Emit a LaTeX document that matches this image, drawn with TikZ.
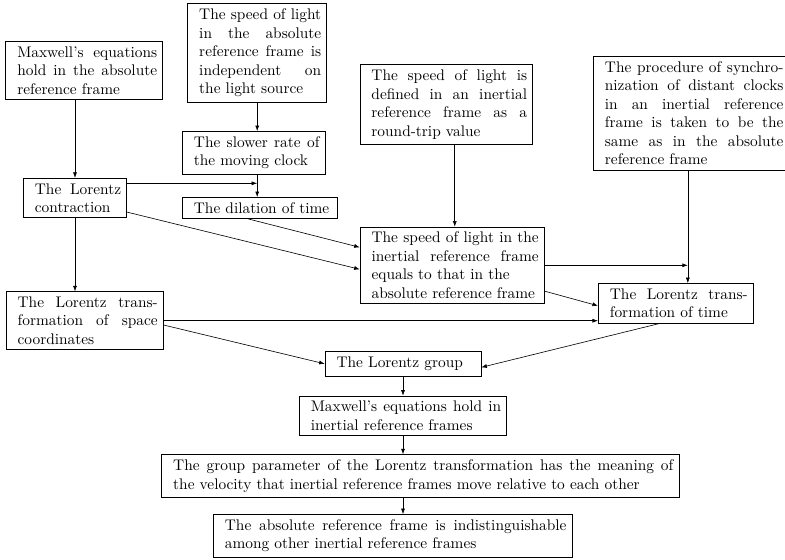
\documentclass[tikz,border=0pt]{standalone}
\usetikzlibrary{arrows.meta}
\begin{document}
\begin{tikzpicture}[x=0.65pt,y=-0.65pt,
  box/.style={draw, align=justify, inner xsep=3.6pt, inner ysep=3.33pt,
    execute at begin node={\leftskip=3.9pt}},
  arr/.style={-{Latex[length=3.6pt,width=2.6pt]}}]
\useasboundingbox (0,0) rectangle (785,559);
\node[box,text width=94.8pt] (mxa) at (84.2,70.3) {Maxwell's equations\linebreak hold in the absolute\linebreak reference frame};
\node[box,text width=83.15pt] (sla) at (257.2,52.8) {The speed of light\linebreak in the absolute\linebreak reference frame is\linebreak independent on\linebreak the light source};
\node[box,text width=85.5pt] (slow) at (253.7,152.8) {The slower rate of\linebreak the moving clock};
\node[box,text width=60pt] (lc) at (75,198) {The Lorentz\linebreak contraction};
\node[box,text width=93.8pt] (dil) at (260,208) {The dilation of time};
\node[box,text width=105.1pt] (sld) at (446.3,104.5) {The speed of light is\linebreak defined in an inertial\linebreak reference frame as a\linebreak round-trip value};
\node[box,text width=120pt] (proc) at (691.2,113.3) {The procedure of synchro-\linebreak nization of distant clocks\linebreak in an inertial reference\linebreak frame is taken to be the\linebreak same as in the absolute\linebreak reference frame};
\node[box,text width=112.6pt] (se) at (452.2,265.3) {The speed of light in the\linebreak inertial reference frame\linebreak equals to that in the\newline absolute reference frame};
\node[box,text width=93.55pt] (tlt) at (675.8,303.3) {The Lorentz trans-\linebreak formation of time};
\node[box,text width=95pt] (lst) at (84.7,320.7) {The Lorentz trans-\linebreak formation of space\linebreak coordinates};
\node[box,text width=94.2pt] (lg) at (403,363.8) {The Lorentz group};
\node[box,text width=127.6pt] (mxi) at (403,415.8) {Maxwell's equations hold in\linebreak inertial reference frames};
\node[box,text width=329pt] (gp) at (420.3,476) {The group parameter of the Lorentz transformation has the meaning of\linebreak the velocity that inertial reference frames move relative to each other};
\node[box,text width=226pt] (abs) at (392.7,535.8) {The absolute reference frame is indistinguishable\linebreak among other inertial reference frames};
% connectors
\draw[arr] (mxa.south -| lc.north) -- (lc.north);
\draw[arr] (sla.south) -- (sla.south |- slow.north);
\draw[arr] (sla.south |- slow.south) -- (sla.south |- dil.north);
\draw[arr] ([yshift=-3.5pt]lc.north east) -- ([yshift=-3.5pt]lc.north east -| sla.south);
\draw[arr] ([xshift=-7.6pt]dil.south) -- ([yshift=11.7pt]se.west);
\draw[arr] ([yshift=3.9pt]lc.south east) -- ([yshift=-2.6pt]se.west);
\draw[arr] (lc.south) -- (lc.south |- lst.north);
\draw[arr] ([xshift=5.5pt]sld.south) -- ([xshift=5.5pt]sld.south |- se.north);
\draw[arr] ([xshift=-2.2pt]proc.south) -- ([xshift=-2.2pt]proc.south |- tlt.north);
\draw[arr] (se.east) -- ([xshift=-2.2pt]se.east -| proc.south);
\draw[arr] ([yshift=8.3pt]se.south east) -- ([yshift=-1.6pt]tlt.west);
\draw[arr] (lst.east) -- (lst.east -| tlt.west);
\draw[arr] ([yshift=-2.8pt]lst.east) -- (lg.west);
\draw[arr] ([xshift=-10.3pt]tlt.south) -- ([yshift=-2.3pt]lg.east);
\draw[arr] (lg.south) -- (lg.south |- mxi.north);
\draw[arr] (mxi.south) -- (mxi.south |- gp.north);
\draw[arr] (mxi.south |- gp.south) -- (mxi.south |- abs.north);
\end{tikzpicture}
\end{document}
